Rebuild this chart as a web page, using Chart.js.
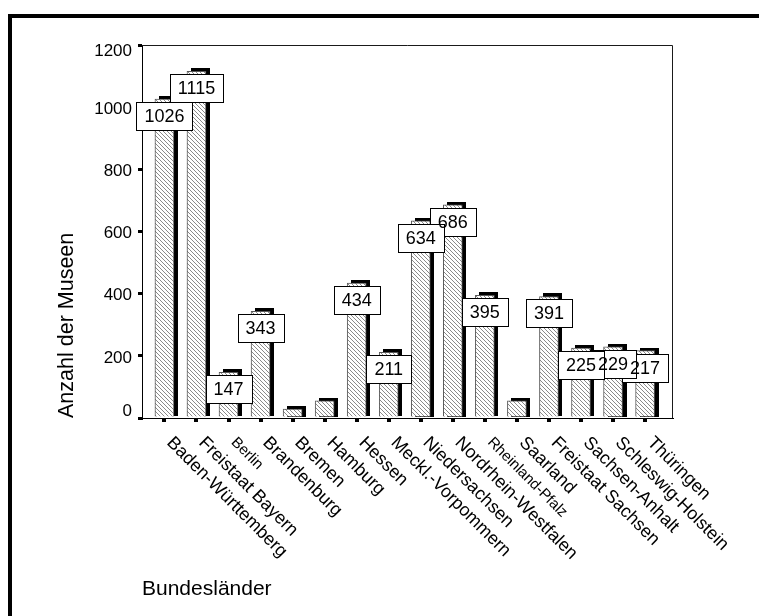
<!DOCTYPE html>
<html>
<head>
<meta charset="utf-8">
<script src="https://cdn.jsdelivr.net/npm/chart.js@4/dist/chart.umd.min.js"></script>
<style>
  html, body { margin: 0; padding: 0; background: #fff; }
  #wrap { width: 759px; height: 616px; position: relative; }
</style>
</head>
<body>
<div id="wrap"><canvas id="museen" width="759" height="616"></canvas></div>
<script>
// Museen je Bundesland
const categories = [
  'Baden-Württemberg', 'Freistaat Bayern', 'Berlin', 'Brandenburg', 'Bremen',
  'Hamburg', 'Hessen', 'Meckl.-Vorpommern', 'Niedersachsen', 'Nordrhein-Westfalen',
  'Rheinland-Pfalz', 'Saarland', 'Freistaat Sachsen', 'Sachsen-Anhalt',
  'Schleswig-Holstein', 'Thüringen'
];
const museumCounts = [1026, 1115, 147, 343, 29, 55, 434, 211, 634, 686, 395, 55, 391, 225, 229, 217];
const labelledBars = [true, true, true, true, false, false, true, true, true, true, true, false, true, true, true, true];
const yTickValues = [0, 200, 400, 600, 800, 1000, 1200];
const yAxisTitle = 'Anzahl der Museen';
const xAxisTitle = 'Bundesländer';

const FONT = '"Liberation Sans", Arial, Helvetica, sans-serif';
const smallCategoryFont = new Set(['Berlin', 'Rheinland-Pfalz']);

const canvas = document.getElementById('museen');
const ctx2d = canvas.getContext('2d');

// diagonal hatch fill for the bars
function makeHatch() {
  const tile = document.createElement('canvas');
  tile.width = 4; tile.height = 4;
  const g = tile.getContext('2d');
  g.fillStyle = '#ffffff';
  g.fillRect(0, 0, 4, 4);
  g.fillStyle = '#8a8a8a';
  for (let i = 0; i < 4; i++) g.fillRect(i, i, 1, 1);
  return ctx2d.createPattern(tile, 'repeat');
}

// outer frame and plot box
const framePlugin = {
  id: 'frame',
  beforeDraw(chart) {
    const c = chart.ctx;
    c.save();
    c.fillStyle = '#fff';
    c.fillRect(0, 0, chart.width, chart.height);
    c.fillStyle = '#000';
    c.fillRect(8, 14, 4, chart.height - 14);
    c.fillRect(8, 14, chart.width - 8, 4);
    c.restore();
  },
  beforeDatasetsDraw(chart) {
    const {ctx: c, chartArea: a} = chart;
    c.save();
    c.strokeStyle = '#1a1a1a';
    c.lineWidth = 1;
    c.beginPath();
    c.moveTo(a.left, a.top + 0.5);
    c.lineTo(a.right + 0.5, a.top + 0.5);
    c.lineTo(a.right + 0.5, a.bottom);
    c.stroke();
    c.restore();
  }
};

// black drop shadow behind every bar
const shadowPlugin = {
  id: 'barShadow',
  beforeDatasetsDraw(chart) {
    const c = chart.ctx;
    const meta = chart.getDatasetMeta(0);
    c.save();
    c.fillStyle = '#000';
    meta.data.forEach(el => {
      const {x, y, base, width} = el.getProps(['x', 'y', 'base', 'width'], true);
      c.fillRect(Math.round(x - width / 2 + 4), Math.round(y - 3), Math.round(width), Math.round(base - y + 3));
    });
    c.restore();
  }
};

// boxed value labels: boxes first (last category at the back), then the numbers
const valueLabelPlugin = {
  id: 'valueLabels',
  afterDatasetsDraw(chart) {
    const c = chart.ctx;
    const meta = chart.getDatasetMeta(0);
    c.save();
    c.font = '18px ' + FONT;
    const boxes = [];
    meta.data.forEach((el, i) => {
      if (!labelledBars[i]) return;
      const {x, y} = el.getProps(['x', 'y'], true);
      const text = String(museumCounts[i]);
      const w = Math.round(c.measureText(text).width + 16);
      const h = 28;
      const left = Math.round(x - w / 2) + 0.5;
      const top = Math.round(y + 3) + 0.5;
      boxes.push({text, x, left, top, w, h});
    });
    for (let k = boxes.length - 1; k >= 0; k--) {
      const b = boxes[k];
      c.fillStyle = '#fff';
      c.fillRect(b.left, b.top, b.w, b.h);
      c.strokeStyle = '#000';
      c.lineWidth = 1;
      c.strokeRect(b.left, b.top, b.w, b.h);
    }
    c.fillStyle = '#000';
    c.textAlign = 'center';
    c.textBaseline = 'middle';
    boxes.forEach(b => c.fillText(b.text, b.x, b.top + b.h / 2 + 1));
    c.restore();
  }
};

// slanted category names under the axis
const categoryLabelPlugin = {
  id: 'categoryLabels',
  afterDraw(chart) {
    const c = chart.ctx;
    const xs = chart.scales.x;
    const y0 = chart.chartArea.bottom + 22;
    c.save();
    c.fillStyle = '#000';
    c.textAlign = 'left';
    c.textBaseline = 'middle';
    categories.forEach((name, i) => {
      const px = xs.getPixelForValue(i);
      c.save();
      c.translate(px + 5, y0);
      c.rotate(Math.PI / 4);
      c.font = (smallCategoryFont.has(name) ? 15 : 18) + 'px ' + FONT;
      c.fillText(name, 0, 0);
      c.restore();
    });
    c.restore();
  }
};

new Chart(canvas, {
  type: 'bar',
  data: {
    datasets: [{
      label: yAxisTitle,
      data: museumCounts.map((v, i) => ({x: i, y: v})),
      backgroundColor: makeHatch(),
      borderColor: '#5a5a5a',
      borderWidth: 1,
      borderSkipped: 'start',
      barThickness: 19
    }]
  },
  options: {
    responsive: false,
    animation: false,
    devicePixelRatio: 1,
    layout: { padding: { left: 0, right: 87, top: 45, bottom: 0 } },
    plugins: {
      legend: { display: false },
      tooltip: { enabled: false }
    },
    scales: {
      x: {
        type: 'linear',
        min: -0.7,
        max: 15.84,
        offset: false,
        afterBuildTicks: s => { s.ticks = categories.map((_, i) => ({value: i})); },
        afterFit: s => { s.height = 198; },
        border: { display: true, color: '#000', width: 1 },
        grid: {
          display: true, offset: false, drawOnChartArea: false, drawTicks: true,
          tickLength: 4, tickWidth: 4, tickColor: '#000', color: '#000', lineWidth: 4
        },
        ticks: { display: false },
        title: {
          display: true, text: xAxisTitle, align: 'start', color: '#000',
          font: { family: FONT, size: 21 }, padding: { top: 0, bottom: 14 }
        }
      },
      y: {
        min: 0,
        max: 1200,
        afterBuildTicks: s => { s.ticks = yTickValues.map(v => ({value: v})); },
        afterFit: s => { s.width = 142; },
        border: { display: true, color: '#000', width: 1 },
        grid: {
          display: true, drawOnChartArea: false, drawTicks: true,
          tickLength: 4, tickWidth: 3, tickColor: '#000', color: '#000', lineWidth: 3
        },
        ticks: {
          color: '#000',
          padding: 6,
          labelOffset: 2,
          font: c => ({ family: FONT, size: 17, lineHeight: (c.tick && c.tick.value === 1200) ? 0.5 : 1 }),
          callback: v => v === 0 ? ['0', ''] : (v === 1200 ? ['', '1200'] : String(v))
        },
        title: {
          display: true, text: yAxisTitle, align: 'start', color: '#000',
          font: { family: FONT, size: 21.5 }, padding: { top: 54, bottom: 0 }
        }
      }
    }
  },
  plugins: [framePlugin, shadowPlugin, valueLabelPlugin, categoryLabelPlugin]
});
</script>
</body>
</html>
